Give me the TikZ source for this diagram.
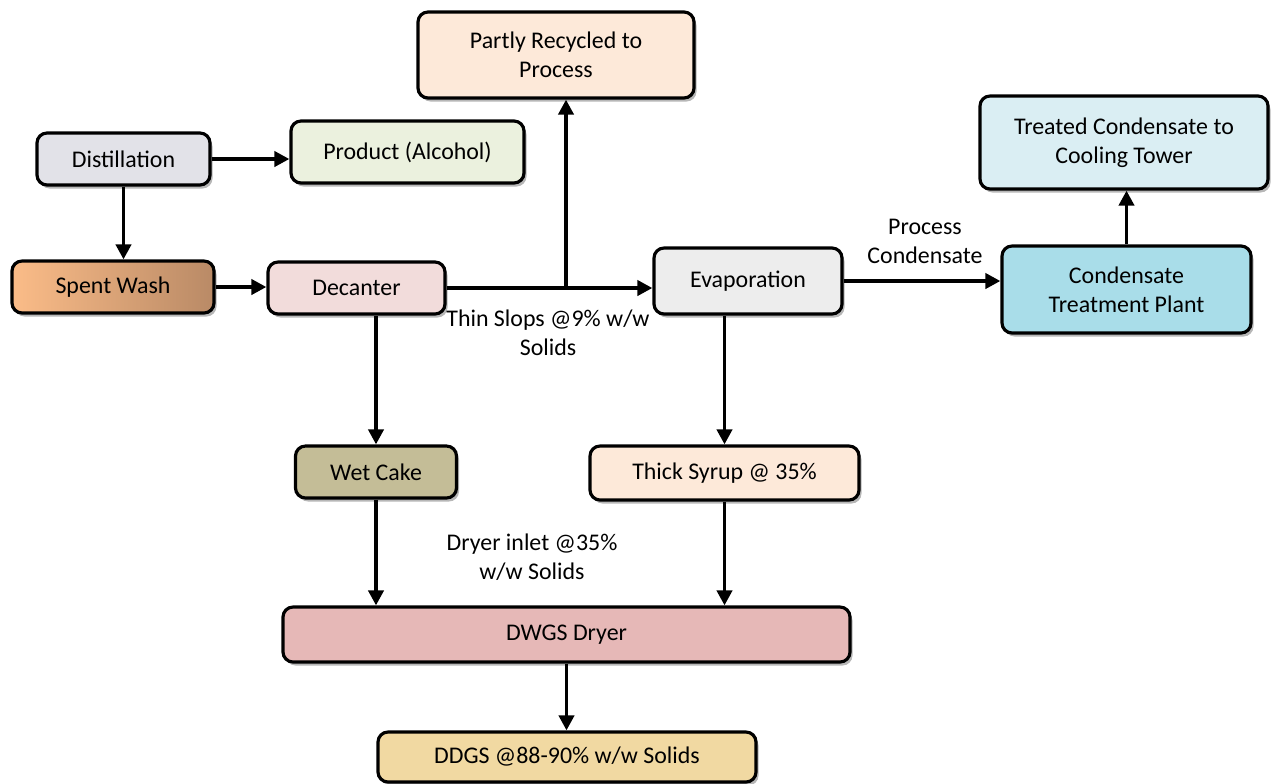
\documentclass[tikz,border=0pt]{standalone}
\usepackage{fontspec}
\setmainfont{Carlito}
\usepackage{tikz}
\usetikzlibrary{arrows.meta, positioning, calc, shadows}

\definecolor{marble}{HTML}{E2E2E8}
\definecolor{greenpale}{HTML}{EBF1DE}
\definecolor{peach}{HTML}{FDE9D9}
\definecolor{rosepale}{HTML}{F2DCDB}
\definecolor{fog}{HTML}{EDEDED}
\definecolor{aqua}{HTML}{A9DDE9}
\definecolor{icepale}{HTML}{DAEEF3}
\definecolor{khaki}{HTML}{C4BD97}
\definecolor{dusty}{HTML}{E6B8B7}
\definecolor{parchment}{HTML}{F1D9A2}
\definecolor{orangelt}{HTML}{FBBC88}
\definecolor{orangedk}{HTML}{B98A66}

\begin{document}
\begin{tikzpicture}[
  font=\fontsize{13.6}{16.6}\selectfont,
  unitbox/.style={
    draw=black, line width=1.8pt, rounded corners=0.2cm,
    align=center, inner sep=2pt,
    drop shadow={shadow xshift=0.05cm, shadow yshift=-0.07cm,
                 fill=black!40, opacity=0.7}
  },
  streamlabel/.style={align=center, inner sep=1pt},
  flow/.style={line width=2.2pt,
    -{Triangle[length=0.3cm, width=0.3cm]}},
  plain/.style={line width=2.2pt}
]
\useasboundingbox (0,0) rectangle (25.5,-15.66);

% ── Front end: distillation ─────────────────────────────────
\node[unitbox, fill=marble, minimum width=3.46cm, minimum height=1.04cm]
  (distil) at (2.47,-3.18) {Distillation};
\node[unitbox, fill=greenpale, minimum width=4.66cm, minimum height=1.24cm]
  (product) at (8.15,-3.04) {Product (Alcohol)};
\node[unitbox, left color=orangelt, right color=orangedk,
      minimum width=4.04cm, minimum height=1.04cm]
  (spent) at (2.26,-5.74) {Spent Wash};
\node[unitbox, fill=rosepale, minimum width=3.54cm, minimum height=1.04cm]
  (decanter) at (7.13,-5.76) {Decanter};
\node[unitbox, fill=peach, minimum width=5.52cm, minimum height=1.72cm]
  (recyc) at (11.12,-1.10) {Partly Recycled to\\Process};

% ── Evaporation and condensate ──────────────────────────────
\node[unitbox, fill=fog, minimum width=3.76cm, minimum height=1.32cm]
  (evap) at (14.96,-5.62) {Evaporation};
\node[unitbox, fill=aqua, minimum width=4.98cm, minimum height=1.74cm]
  (ctp) at (22.53,-5.79) {Condensate\\Treatment Plant};
\node[unitbox, fill=icepale, minimum width=5.76cm, minimum height=1.86cm]
  (treated) at (22.48,-2.85) {Treated Condensate to\\Cooling Tower};

% ── Drying train ─────────────────────────────────────────────
\node[unitbox, fill=khaki, minimum width=3.22cm, minimum height=1.04cm]
  (wetcake) at (7.52,-9.44) {Wet Cake};
\node[unitbox, fill=peach, minimum width=5.38cm, minimum height=1.08cm]
  (syrup) at (14.49,-9.46) {Thick Syrup @ 35\%};
\node[unitbox, fill=dusty, minimum width=11.34cm, minimum height=1.10cm]
  (dryer) at (11.33,-12.69) {DWGS Dryer};
\node[unitbox, fill=parchment, minimum width=7.56cm, minimum height=1.00cm]
  (ddgs) at (11.34,-15.14) {DDGS @88-90\% w/w Solids};

% ── Stream labels ────────────────────────────────────────────
\node[streamlabel] (slops) at (10.96,-6.66) {Thin Slops @9\% w/w\\Solids};
\node[streamlabel] (pcond) at (18.50,-4.82) {Process\\Condensate};
\node[streamlabel] (inlet) at (10.64,-11.14) {Dryer inlet @35\%\\w/w Solids};

% ── Flows ────────────────────────────────────────────────────
\coordinate (split) at (11.32,-5.76);
\draw[flow] (distil.east) -- (distil.east -| product.west);
\draw[flow] (distil.south) -- (distil.south |- spent.north);
\draw[flow] (spent.east) -- (spent.east -| decanter.west);
\draw[plain] (decanter.east) -- (split);
\draw[flow] (split) -- (split -| evap.west);
\draw[flow] (split) -- (split |- recyc.south);
\draw[flow] (evap.east) -- (evap.east -| ctp.west);
\draw[flow] (ctp.north) -- (ctp.north |- treated.south);
\draw[flow] (wetcake.north |- decanter.south) -- (wetcake.north);
\draw[flow] (syrup.north |- evap.south) -- (syrup.north);
\draw[flow] (wetcake.south) -- (wetcake.south |- dryer.north);
\draw[flow] (syrup.south) -- (syrup.south |- dryer.north);
\draw[flow] (dryer.south) -- (dryer.south |- ddgs.north);

\end{tikzpicture}
\end{document}
